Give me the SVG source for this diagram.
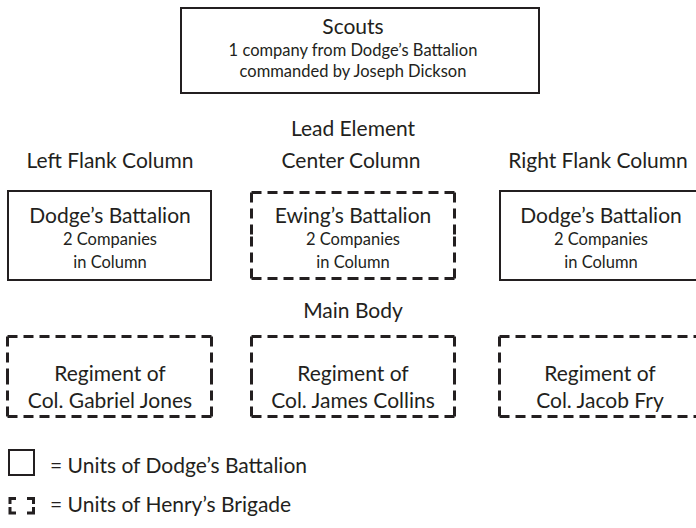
<svg xmlns="http://www.w3.org/2000/svg" width="696" height="528" viewBox="0 0 696 528">
<style>
text{font-family:Lato,"Open Sans","DejaVu Sans",sans-serif;fill:#231f20;text-anchor:middle}
.big{font-size:21px}
.sm{font-size:16.5px}
.lg{font-size:21px;text-anchor:start}
.solid{fill:none;stroke:#231f20;stroke-width:2}
.dash{fill:none;stroke:#231f20;stroke-width:3;stroke-dasharray:10 6}
.corner{fill:none;stroke:#231f20;stroke-width:3}
</style>
<rect width="696" height="528" fill="#fff"/>
<g id="scouts">
<rect class="solid" x="181" y="8" width="358" height="85"/>
<text class="big" x="353" y="34">Scouts</text>
<text class="sm" x="353" y="56">1 company from Dodge’s Battalion</text>
<text class="sm" x="353" y="77">commanded by Joseph Dickson</text>
</g>
<g id="labels">
<text class="big" x="353" y="136">Lead Element</text>
<text class="big" x="110" y="168">Left Flank Column</text>
<text class="big" x="351" y="168">Center Column</text>
<text class="big" x="598" y="168">Right Flank Column</text>
<text class="big" x="353" y="318">Main Body</text>
</g>
<g id="left-lead">
<rect class="solid" x="8" y="191" width="203" height="89"/>
<text class="big" x="110" y="223">Dodge’s Battalion</text>
<text class="sm" x="110" y="245">2 Companies</text>
<text class="sm" x="110" y="268">in Column</text>
</g>
<g id="center-lead">
<path class="dash" d="M251.5,192.5 H353 M454.5,192.5 H353 M251.5,278.5 H353 M454.5,278.5 H353 M251.5,192.5 V235.5 M251.5,278.5 V235.5 M454.5,192.5 V235.5 M454.5,278.5 V235.5"/>
<text class="big" x="353" y="223">Ewing’s Battalion</text>
<text class="sm" x="353" y="245">2 Companies</text>
<text class="sm" x="353" y="268">in Column</text>
</g>
<g id="right-lead">
<rect class="solid" x="500" y="191" width="203" height="89"/>
<text class="big" x="601" y="223">Dodge’s Battalion</text>
<text class="sm" x="601" y="245">2 Companies</text>
<text class="sm" x="601" y="268">in Column</text>
</g>
<g id="left-main">
<path class="dash" d="M7.5,336.5 H109.5 M211.5,336.5 H109.5 M7.5,416.5 H109.5 M211.5,416.5 H109.5 M7.5,336.5 V376.5 M7.5,416.5 V376.5 M211.5,336.5 V376.5 M211.5,416.5 V376.5"/>
<text class="big" x="110" y="381">Regiment of</text>
<text class="big" x="110" y="408">Col. Gabriel Jones</text>
</g>
<g id="center-main">
<path class="dash" d="M251.5,336.5 H353 M454.5,336.5 H353 M251.5,416.5 H353 M454.5,416.5 H353 M251.5,336.5 V376.5 M251.5,416.5 V376.5 M454.5,336.5 V376.5 M454.5,416.5 V376.5"/>
<text class="big" x="353" y="381">Regiment of</text>
<text class="big" x="353" y="408">Col. James Collins</text>
</g>
<g id="right-main">
<path class="dash" d="M499.5,336.5 H601.5 M703.5,336.5 H601.5 M499.5,416.5 H601.5 M703.5,416.5 H601.5 M499.5,336.5 V376.5 M499.5,416.5 V376.5 M703.5,336.5 V376.5 M703.5,416.5 V376.5"/>
<text class="big" x="600" y="381">Regiment of</text>
<text class="big" x="600" y="408">Col. Jacob Fry</text>
</g>
<g id="legend">
<rect class="solid" x="9" y="450" width="25" height="25"/>
<text class="lg" x="50" y="473">= Units of Dodge’s Battalion</text>
<path class="corner" d="M10,504 V498.5 H16 M27,498.5 H33.5 V504 M10,507 V513 H16 M27,513 H33.5 V507"/>
<text class="lg" x="50" y="512">= Units of Henry’s Brigade</text>
</g>
<g id="connectors"></g>
</svg>
